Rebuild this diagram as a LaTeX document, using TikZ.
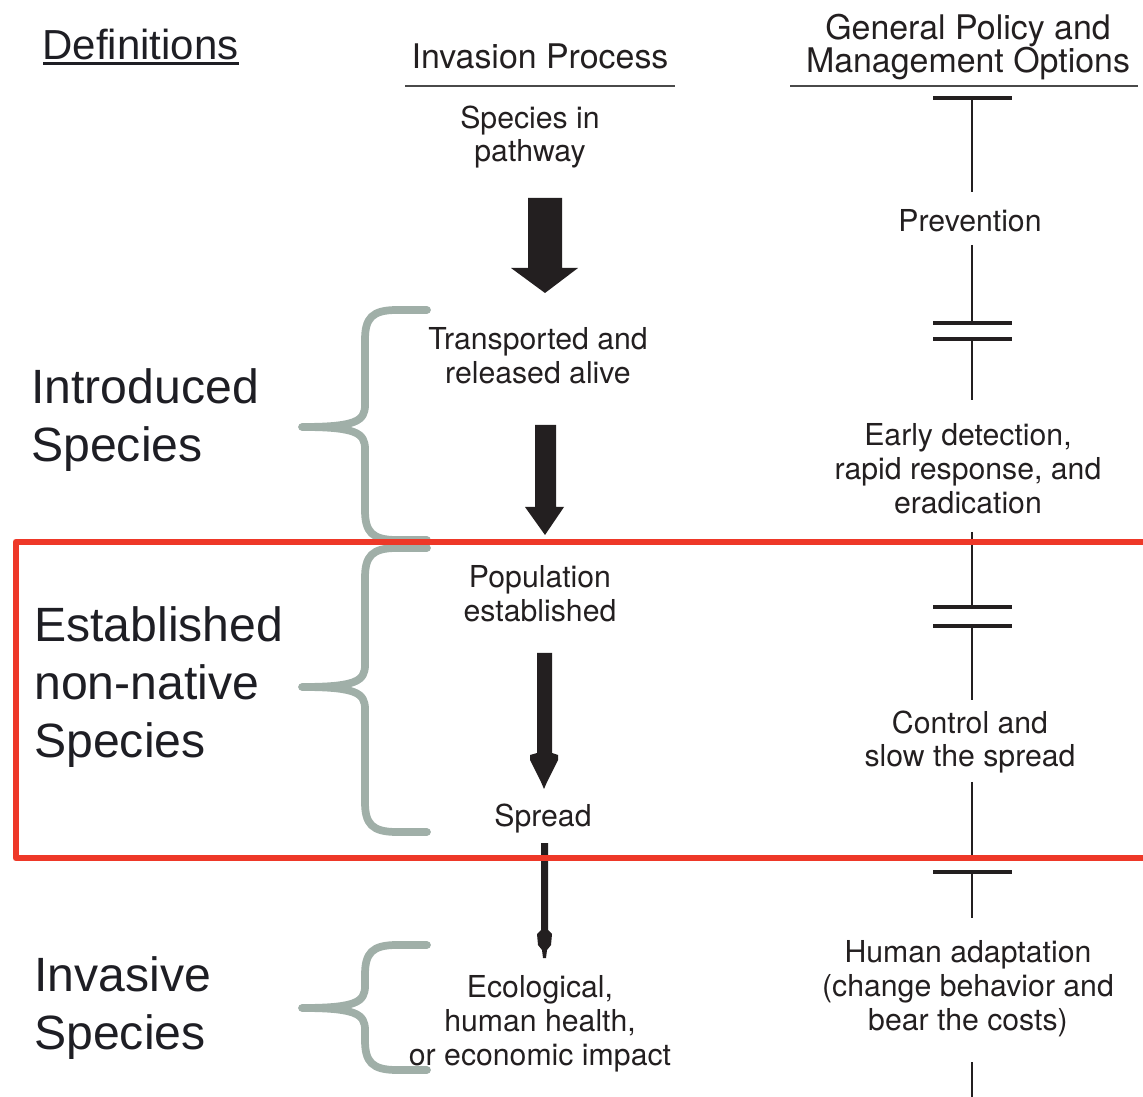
\documentclass[tikz,border=0pt]{standalone}
\usepackage{fontspec}
\setmainfont{TeX Gyre Heros}
\newfontfamily\labelfont{Liberation Sans}
\usetikzlibrary{calc}
\definecolor{ink}{HTML}{231F20}
\definecolor{labelink}{HTML}{1E1E24}
\definecolor{braceclr}{HTML}{A0AFA8}
\definecolor{boxred}{HTML}{EE3828}
\definecolor{rulegray}{HTML}{4A4A4A}
\tikzset{
  proc/.style={inner sep=0pt, align=center, text=ink,
    font=\fontsize{17.2}{19.3}\selectfont},
  head/.style={inner sep=0pt, align=center, text=ink,
    font=\fontsize{19.3}{18.8}\selectfont},
  biglabel/.style={inner sep=0pt, align=left, anchor=west, text=labelink,
    font=\labelfont\fontsize{27.4}{32.9}\selectfont},
  defn/.style={inner sep=0pt, text=labelink,
    font=\labelfont\fontsize{23.9}{28}\selectfont},
  headrule/.style={draw=rulegray, line width=1.5pt},
  blockarrow/.style={fill=ink, draw=none},
  policyline/.style={draw=ink, line width=1.6pt},
  policybar/.style={draw=ink, line width=2.4pt},
  speciesbrace/.style={draw=braceclr, line width=4.4pt, line cap=round, line join=round},
  redframe/.style={draw=boxred, line width=3.9pt, line join=round},
}
% curly brace opening to the right: top y, tip y, bottom y
\newcommand{\curlyspan}[3]{%
  \draw[speciesbrace] (427,#1) -- (397,#1)
    .. controls (372,#1) and (365,{#1+8}) .. (365,{#1+30})
    -- (365,{#2-22})
    .. controls (365,{#2-6}) and (356,{#2}) .. (302,#2)
    .. controls (356,{#2}) and (365,{#2+6}) .. (365,{#2+22})
    -- (365,{#3-30})
    .. controls (365,{#3-8}) and (372,#3) .. (397,#3) -- (427,#3);}
% vertical policy segment ending in a bar at the bottom: top y, bar y
\newcommand{\barbelow}[2]{%
  \draw[policyline] (972,#1) -- (972,#2);
  \draw[policybar] (933,#2) -- (1012,#2);}
% bar with a vertical policy segment hanging below it: bar y, bottom y
\newcommand{\barabove}[2]{%
  \draw[policybar] (933,#1) -- (1012,#1);
  \draw[policyline] (972,#1) -- (972,#2);}
\begin{document}
\begin{tikzpicture}[x=0.02cm, y=-0.02cm]
\useasboundingbox (0,0) rectangle (1143,1097);

% column headings
\node[defn, anchor=base west] (defs) at (42,60) {Definitions};
\draw[draw=labelink, line width=1.7pt] ($(defs.base west)+(1,4)$) -- ($(defs.base east)+(0,4)$);
\node[head] (invproc) at (540,56) {Invasion Process};
\node[head] (policy) at (968,47) {General Policy and\\Management Options};
\coordinate (r1a) at (405,86); \coordinate (r1b) at (675,86);
\coordinate (r2a) at (790,86); \coordinate (r2b) at (1138,86);
\draw[headrule] (r1a) -- (r1b);
\draw[headrule] (r2a) -- (r2b);

% invasion process stages
\node[proc] (pathway) at (530,137) {Species in\\pathway};
\node[proc] (transp) at (538,356) {Transported and\\released alive};
\node[proc] (popest) at (540,594) {Population\\established};
\node[proc] (spread) at (543,819) {Spread};
\node[proc] (impact) at (540,1024) {Ecological,\\human health,\\or economic impact};

% arrows between stages, shrinking down the column
\fill[blockarrow] (528,198) -- (562,198) -- (562,268) -- (578,268) -- (545,293)
  -- (511,268) -- (528,268) -- cycle;
\fill[blockarrow] (535,425) -- (556,425) -- (556,507) -- (564,507) -- (545,535)
  -- (525,507) -- (535,507) -- cycle;
\fill[blockarrow] (537,653) -- (552,653) -- (552,753) -- (558,755) -- (558,760)
  -- (547,782) -- (544,789) -- (541,782) -- (530,760) -- (530,755) -- (537,753) -- cycle;
\fill[blockarrow] (541,843) -- (548,843) -- (548,930) -- (552,934) -- (551,945)
  -- (547,950) -- (546,958) -- (543,958) -- (542,950) -- (538,945) -- (537,934)
  -- (541,930) -- cycle;

% policy and management options
\node[proc] (prevent) at (970,221) {Prevention};
\node[proc] (early) at (968,469) {Early detection,\\rapid response, and\\eradication};
\node[proc] (control) at (970,742) {Control and\\slow the spread};
\node[proc] (adapt) at (968,989) {Human adaptation\\(change behavior and\\bear the costs)};

\barabove{98}{192}
\barbelow{245}{323}
\barabove{339}{400}
\barbelow{532}{607}
\barabove{626}{700}
\barbelow{782}{857}
\barabove{872}{918}
\draw[policyline] (972,1062) -- (972,1097);

% species definitions with their braces
\node[biglabel] (introduced) at (31,420) {Introduced\\Species};
\node[biglabel] (established) at (34,687) {Established\\non-native\\Species};
\node[biglabel] (invasive) at (34,1008) {Invasive\\Species};
\curlyspan{310}{427}{540}
\curlyspan{548}{687}{832}
\curlyspan{945}{1008}{1070}

% highlight frame around the established stage
\draw[redframe] (1143,542) -- (16,542) -- (16,858) -- (1143,858);
\end{tikzpicture}
\end{document}
